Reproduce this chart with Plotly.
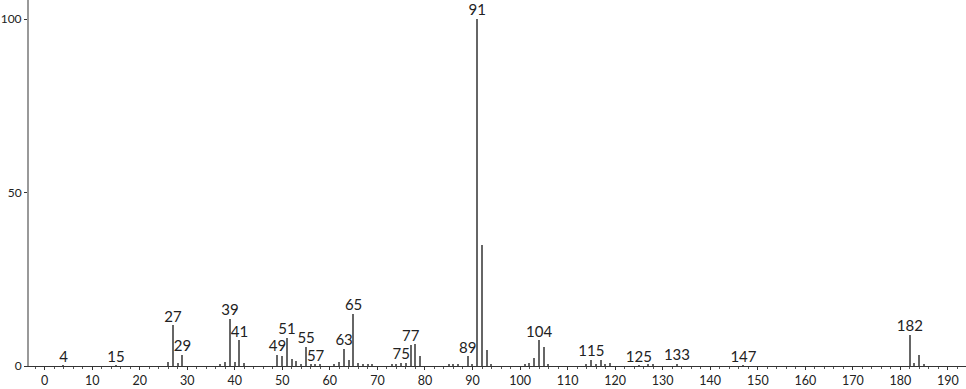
import plotly.graph_objects as go

mz = [4, 15, 26, 27, 28, 29, 37, 38, 39, 40, 41, 42, 49, 50, 51, 52, 53, 54, 55, 56, 57, 58,
      61, 62, 63, 64, 65, 66, 67, 68, 69, 73, 74, 75, 76, 77, 78, 79, 85, 86, 87, 89, 90,
      91, 92, 93, 94, 101, 102, 103, 104, 105, 106, 114, 115, 116, 117, 118, 119,
      125, 127, 128, 133, 147, 182, 183, 184, 185]
intensity = [0.15, 0.2, 1.2, 11.7, 1.0, 3.3, 0.4, 1.2, 13.5, 1.2, 7.4, 0.8, 3.2, 2.8, 8.2, 2.0, 1.5, 0.5, 5.6, 0.4, 0.4, 0.4,
             0.4, 1.2, 4.9, 1.7, 15.0, 0.9, 0.4, 0.3, 0.3, 0.3, 0.4, 1.0, 0.8, 6.1, 6.2, 2.8, 0.3, 0.3, 0.4, 2.8, 0.5,
             100.0, 34.8, 4.6, 0.3, 0.4, 0.9, 2.3, 7.4, 5.4, 0.4, 0.4, 1.8, 0.5, 1.6, 0.4, 0.8,
             0.2, 0.3, 0.3, 0.6, 0.2, 9.0, 1.0, 3.2, 0.3]
labeled_mz = [4, 15, 27, 29, 39, 41, 49, 51, 55, 57, 63, 65, 75, 77, 89, 91, 104, 115, 125, 133, 147, 182]

x_ticks = list(range(0, 200, 10))
y_ticks = [0, 50, 100]

lookup = dict(zip(mz, intensity))
label_y = [lookup[m] for m in labeled_mz]

FONT = "Lato"

fig = go.Figure()
fig.add_trace(go.Bar(x=mz, y=intensity, width=0.28,
                     marker=dict(color="#666666", line=dict(width=0)),
                     hoverinfo="x+y"))
fig.add_trace(go.Scatter(x=labeled_mz, y=label_y, mode="text",
                         text=[str(m) for m in labeled_mz],
                         textposition="top center",
                         textfont=dict(family=FONT, size=15, color="#222222"),
                         cliponaxis=False, hoverinfo="skip"))

fig.update_layout(
    width=966, height=389,
    margin=dict(l=29, r=0, t=0, b=23, autoexpand=False),
    paper_bgcolor="white", plot_bgcolor="white",
    showlegend=False, bargap=0,
    font=dict(family=FONT, size=12, color="#222222"),
)
fig.update_xaxes(
    range=[-3.28, 193.8], tickvals=x_ticks, ticktext=[str(v) for v in x_ticks],
    showgrid=False, zeroline=False, automargin=False,
    showline=True, linecolor="#333333", linewidth=1,
    ticks="outside", ticklen=3, tickcolor="#333333", tickwidth=1,
    minor=dict(dtick=2, tick0=0, ticks="outside", ticklen=2, tickcolor="#555555", showgrid=False),
    tickfont=dict(family=FONT, size=12.5, color="#222222"),
)
fig.update_yaxes(
    range=[0, 105.5], tickvals=y_ticks, ticktext=[str(v) for v in y_ticks],
    showgrid=False, zeroline=False, automargin=False,
    showline=True, linecolor="#999999", linewidth=2,
    ticks="outside", ticklen=3, tickcolor="#333333", tickwidth=1,
    tickfont=dict(family=FONT, size=12, color="#222222"),
)

fig.write_html("out.html")
